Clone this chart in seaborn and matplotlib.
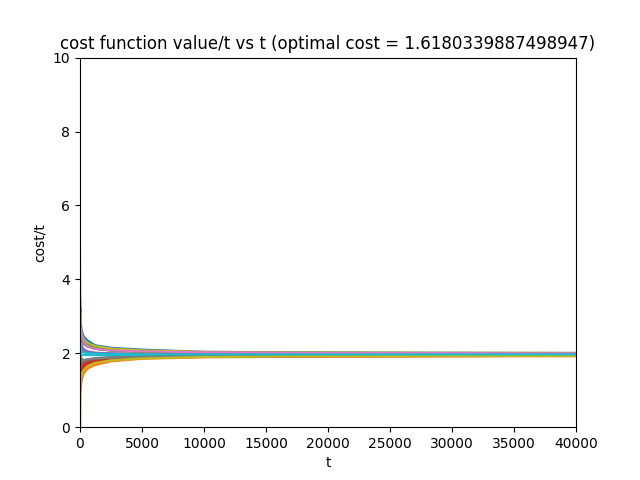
import pandas as pd
import numpy as np
import matplotlib
matplotlib.use("Agg")
import matplotlib.pyplot as plt
import seaborn as sns

T_POINTS = [1, 10, 30, 60, 150, 300, 600, 1200, 2500, 5000, 10000, 20000, 40000]

RUN_00 = [4.7, 3.0, 3.2, 2.8, 2.6, 2.45, 2.35, 2.22, 2.15, 2.10, 2.04, 2.02, 2.01]
RUN_01 = [0.0, 0.8, 1.0, 1.2, 1.35, 1.50, 1.62, 1.72, 1.80, 1.87, 1.90, 1.92, 1.93]
RUN_02 = [3.0, 3.5, 2.9, 2.6, 2.45, 2.35, 2.25, 2.15, 2.10, 2.06, 2.03, 2.01, 2.00]
RUN_03 = [1.0, 1.3, 1.2, 1.4, 1.55, 1.62, 1.70, 1.78, 1.84, 1.88, 1.91, 1.93, 1.94]
RUN_04 = [2.0, 2.6, 2.4, 2.5, 2.30, 2.25, 2.18, 2.12, 2.08, 2.05, 2.02, 2.00, 1.99]
RUN_05 = [0.0, 1.5, 1.7, 1.6, 1.65, 1.72, 1.78, 1.83, 1.87, 1.90, 1.92, 1.93, 1.94]
RUN_06 = [4.0, 2.5, 2.7, 2.4, 2.20, 2.12, 2.06, 2.02, 2.00, 1.99, 1.98, 1.97, 1.97]
RUN_07 = [1.0, 2.0, 1.8, 1.9, 1.85, 1.82, 1.84, 1.87, 1.90, 1.92, 1.94, 1.95, 1.95]
RUN_08 = [2.0, 2.9, 3.1, 2.7, 2.50, 2.38, 2.28, 2.20, 2.13, 2.08, 2.04, 2.02, 2.01]
RUN_09 = [2.0, 2.2, 1.9, 2.0, 1.95, 1.96, 1.95, 1.95, 1.95, 1.96, 1.96, 1.96, 1.96]
RUN_10 = [3.0, 2.4, 2.2, 2.3, 2.15, 2.08, 2.04, 2.01, 1.99, 1.98, 1.97, 1.97, 1.97]
RUN_11 = [0.0, 1.0, 1.3, 1.1, 1.30, 1.45, 1.58, 1.68, 1.78, 1.85, 1.89, 1.91, 1.92]
RUN_12 = [3.0, 2.7, 2.8, 2.55, 2.40, 2.30, 2.20, 2.12, 2.07, 2.04, 2.02, 2.01, 2.00]
RUN_13 = [1.0, 1.6, 1.4, 1.5, 1.60, 1.68, 1.75, 1.80, 1.85, 1.89, 1.91, 1.92, 1.93]
RUN_14 = [2.0, 2.3, 2.5, 2.2, 2.10, 2.06, 2.03, 2.00, 1.99, 1.98, 1.97, 1.97, 1.96]
RUN_15 = [1.0, 1.8, 1.6, 1.7, 1.72, 1.76, 1.80, 1.84, 1.87, 1.90, 1.92, 1.93, 1.94]
RUN_16 = [4.0, 3.0, 2.6, 2.65, 2.45, 2.30, 2.20, 2.12, 2.08, 2.05, 2.03, 2.01, 2.00]
RUN_17 = [2.0, 1.7, 1.9, 1.8, 1.78, 1.80, 1.83, 1.86, 1.88, 1.90, 1.92, 1.93, 1.93]
RUN_18 = [0.0, 1.2, 1.5, 1.35, 1.45, 1.55, 1.65, 1.74, 1.81, 1.86, 1.90, 1.92, 1.93]
RUN_19 = [3.0, 2.1, 2.3, 2.1, 2.05, 2.02, 2.00, 1.99, 1.98, 1.97, 1.97, 1.97, 1.97]

RUNS = [RUN_00, RUN_01, RUN_02, RUN_03, RUN_04, RUN_05, RUN_06, RUN_07, RUN_08, RUN_09,
        RUN_10, RUN_11, RUN_12, RUN_13, RUN_14, RUN_15, RUN_16, RUN_17, RUN_18, RUN_19]

OPTIMAL_COST = 1.6180339887498947


if __name__ == "__main__":
    rows = []
    for i, run in enumerate(RUNS):
        for t, v in zip(T_POINTS, run):
            rows.append({"run": i, "t": t, "cost_t": v})
    df = pd.DataFrame(rows)

    fig = plt.figure(figsize=(6.4, 4.8), dpi=100)
    ax = sns.lineplot(data=df, x="t", y="cost_t", hue="run",
                      palette=sns.color_palette("tab10", len(RUNS)),
                      legend=False, linewidth=1.5)
    ax.set_xlim(0, 40000)
    ax.set_ylim(0, 10)
    ax.set(xlabel="t", ylabel="cost/t",
           title="cost function value/t vs t (optimal cost = " + str(OPTIMAL_COST) + ")")
    fig.savefig("out.png")
